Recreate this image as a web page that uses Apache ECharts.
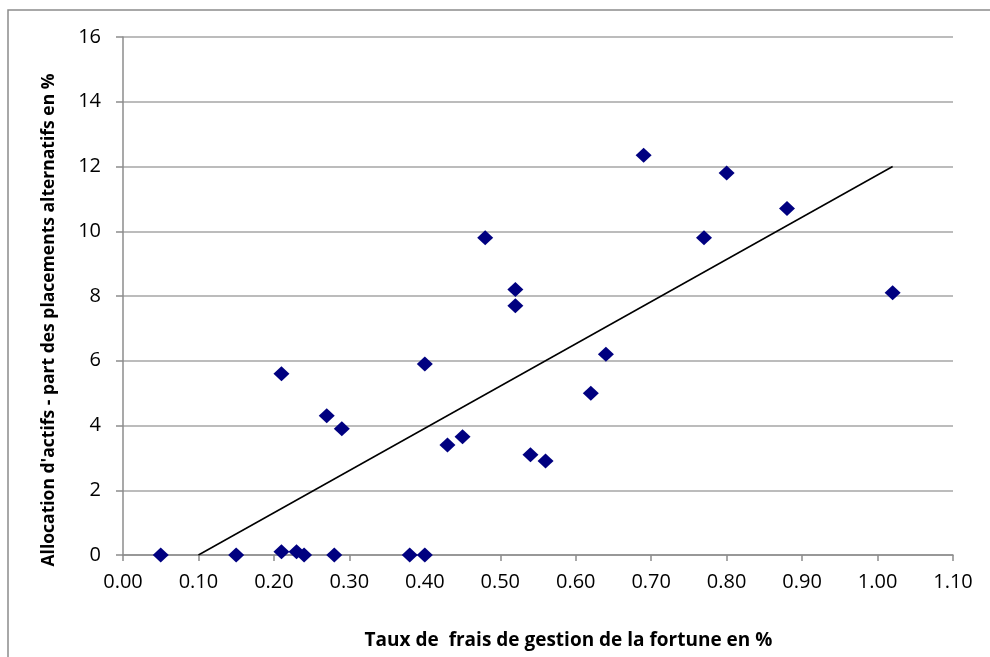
<!DOCTYPE html>
<html>
<head>
<meta charset="utf-8">
<script src="https://cdn.jsdelivr.net/npm/echarts@6/dist/echarts.min.js"></script>
<style>html,body{margin:0;padding:0;background:#fff}#c{width:990px;height:657px}</style>
</head>
<body>
<div id="c"></div>
<script>
// Data
var feeRates = [0.05, 0.15, 0.21, 0.23, 0.24, 0.28, 0.38, 0.40, 0.21, 0.27, 0.29, 0.40, 0.43, 0.45, 0.48, 0.52, 0.52, 0.54, 0.56, 0.62, 0.64, 0.69, 0.77, 0.80, 0.88, 1.02];
var altShares = [0, 0, 0.1, 0.1, 0, 0, 0, 0, 5.6, 4.3, 3.9, 5.9, 3.4, 3.65, 9.8, 8.2, 7.7, 3.1, 2.9, 5.0, 6.2, 12.35, 9.8, 11.8, 10.7, 8.1];
var trendX = [0.10, 1.02];
var trendY = [0, 12.0];
var xTitle = 'Taux de  frais de gestion de la fortune en %';
var yTitle = "Allocation d'actifs - part des placements alternatifs en %";

var points = feeRates.map(function (x, i) { return [x, altShares[i]]; });
var trend = trendX.map(function (x, i) { return [x, trendY[i]]; });

var chart = echarts.init(document.getElementById('c'), null, { renderer: 'canvas' });
var font = 'Open Sans';
chart.setOption({
  animation: false,
  backgroundColor: '#ffffff',
  graphic: [{
    type: 'rect', silent: true,
    shape: { x: 8, y: 10, width: 1100, height: 800 },
    style: { fill: 'none', stroke: '#8c8c8c', lineWidth: 1.5 }
  }],
  grid: { left: 123, right: 37, top: 37, bottom: 102, containLabel: false },
  xAxis: {
    type: 'value', min: 0, max: 1.1, interval: 0.1,
    name: xTitle, nameLocation: 'middle', nameGap: 76,
    nameTextStyle: { fontFamily: font, fontSize: 19, fontWeight: 'bold', color: '#000', padding: [0, 0, 0, 61] },
    axisLine: { show: true, lineStyle: { color: '#8c8c8c', width: 1.5 } },
    axisTick: { show: true, inside: false, length: 6, lineStyle: { color: '#8c8c8c', width: 1.5 } },
    axisLabel: { fontFamily: font, fontSize: 20, color: '#000', margin: 17, formatter: function (v) { return v.toFixed(2); } },
    splitLine: { show: false }
  },
  yAxis: {
    type: 'value', min: 0, max: 16, interval: 2,
    name: yTitle, nameLocation: 'middle', nameGap: 65, nameRotate: 90,
    nameTextStyle: { fontFamily: font, fontSize: 17.5, fontWeight: 'bold', color: '#000', padding: [0, 48, 0, 0] },
    axisLine: { show: true, lineStyle: { color: '#8c8c8c', width: 1.5 } },
    axisTick: { show: true, inside: false, length: 7, lineStyle: { color: '#8c8c8c', width: 1.5 } },
    axisLabel: { fontFamily: font, fontSize: 20, color: '#000', margin: 22 },
    splitLine: { show: true, lineStyle: { color: '#a6a6a6', width: 1.5 } }
  },
  series: [{
    type: 'scatter', name: 'Données',
    data: points,
    symbol: 'diamond', symbolSize: [16, 15],
    itemStyle: { color: '#000080', opacity: 1 },
    z: 3
  }, {
    type: 'line', name: 'Tendance',
    data: trend, symbol: 'none',
    lineStyle: { color: '#000000', width: 1.5 },
    z: 2
  }]
});
</script>
</body>
</html>
